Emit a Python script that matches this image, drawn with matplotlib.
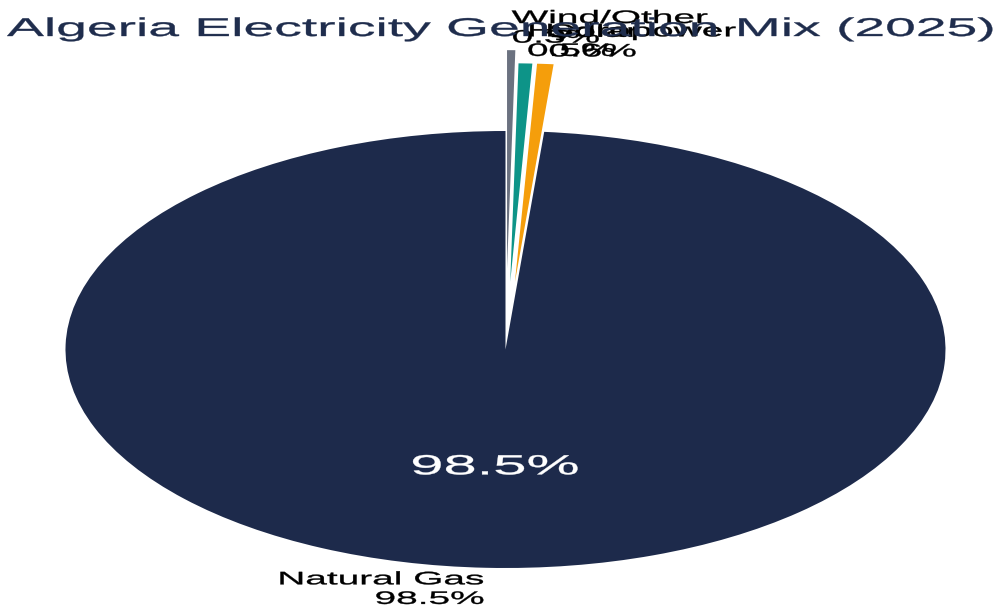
import matplotlib
matplotlib.use("Agg")
import matplotlib.pyplot as plt
import matplotlib.patheffects as pe
from matplotlib.transforms import Affine2D

plt.rcParams["font.family"] = ["Liberation Sans", "DejaVu Sans"]

# generation share by source, percent
sources = ["Natural Gas", "Solar", "Hydropower", "Wind/Other"]
shares = [98.5, 0.6, 0.5, 0.3]
colors = ["#1d2a4b", "#f59e0b", "#0d9488", "#6b7280"]
explode = [0, 0.31, 0.31, 0.37]

title = "Algeria Electricity Generation Mix (2025)"

W, H = 1005, 609
CX, CY = 505.5, 349.5   # pie centre in pixels (from top-left)
RX, RY = 440, 218.5     # pie radii in pixels
SX = 2.15               # horizontal widening of the lettering


class Widen(pe.AbstractPathEffect):
    """Draw a text stretched horizontally about its own anchor."""

    def __init__(self, text, sx, weight=0.25):
        super().__init__()
        self.text = text
        self.sx = sx
        self.weight = weight

    def draw_path(self, renderer, gc, tpath, affine, rgbFace=None):
        x0 = self.text.get_transform().transform(self.text.get_unitless_position())[0]
        widen = Affine2D().translate(-x0, 0).scale(self.sx, 1).translate(x0, 0)
        gc0 = renderer.new_gc()
        gc0.copy_properties(gc)
        gc0.set_linewidth(self.weight)
        gc0.set_foreground(rgbFace)
        renderer.draw_path(gc0, tpath, affine + widen, rgbFace)
        gc0.restore()


total = sum(shares)
labels = [f"{s}\n{v}%" for s, v in zip(sources, shares)]

fig = plt.figure(figsize=(W / 100, H / 100), dpi=100)
ax = fig.add_axes([0, 0, 1, 1])

wedges, texts, autotexts = ax.pie(
    shares,
    labels=labels,
    colors=colors,
    explode=explode,
    startangle=90,
    counterclock=True,
    labeldistance=1.1,
    pctdistance=0.54,
    autopct=lambda p: f"{p * total / 100:.1f}%" if p > 5 else "",
    textprops=dict(fontsize=13, color="black"),
)
for t in autotexts:
    t.set_color("white")
    t.set_fontsize(20)

ax.set_aspect("auto")
ax.set_xlim(-CX / RX, (W - CX) / RX)
ax.set_ylim(-(H - CY) / RY, CY / RY)
ax.axis("off")

ttl = fig.text(0.5, 1 - 29 / H, title, ha="center", va="center",
               fontsize=18.5, color="#1f2d4d")

for t in list(texts) + list(autotexts) + [ttl]:
    t.set_path_effects([Widen(t, SX)])

fig.savefig("out.png", dpi=100)
